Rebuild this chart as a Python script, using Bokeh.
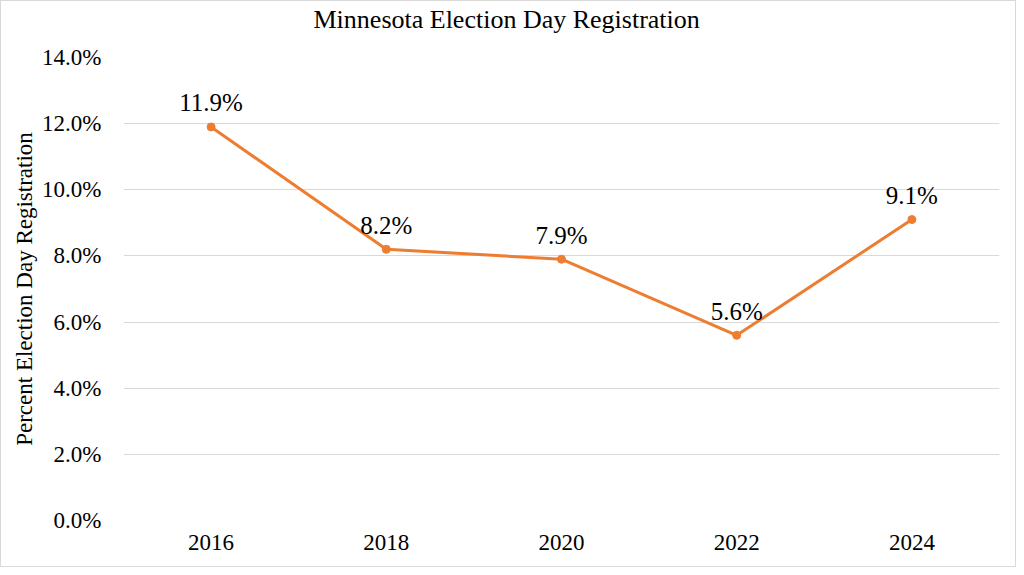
from bokeh.plotting import figure
from bokeh.models import ColumnDataSource, FixedTicker, Range1d, Title
from bokeh.core.properties import value
from bokeh.embed import file_html
from bokeh.resources import INLINE

years = ["2016", "2018", "2020", "2022", "2024"]
pct = [11.9, 8.2, 7.9, 5.6, 9.1]
y_ticks = [0, 2, 4, 6, 8, 10, 12, 14]
y_tick_labels = ["0.0%", "2.0%", "4.0%", "6.0%", "8.0%", "10.0%", "12.0%", "14.0%"]
title_text = "Minnesota Election Day Registration"
y_title = "Percent Election Day Registration"

FONT = "Liberation Serif"
ORANGE = "#ED7D31"
GRID = "#D9D9D9"

xs = list(range(len(years)))
src = ColumnDataSource(dict(x=xs, y=pct, lab=[f"{v:.1f}%" for v in pct]))

p = figure(width=1016, height=567, output_backend="svg", toolbar_location=None,
           x_range=Range1d(-0.5, len(years) - 0.5), y_range=Range1d(0, 14), title=None)
p.min_border_left = 122
p.min_border_right = 18
p.min_border_top = 56
p.min_border_bottom = 48
p.outline_line_color = None
p.background_fill_color = "white"
p.border_fill_color = "white"
p.styles = {"border": "1px solid #D9D9D9"}

p.line("x", "y", source=src, line_color=ORANGE, line_width=3)
p.scatter("x", "y", source=src, size=8, fill_color=ORANGE, line_color=ORANGE)
p.text("x", "y", text="lab", source=src, text_align="center", text_baseline="alphabetic",
       y_offset=-24, text_font=value(FONT), text_font_size="25px", text_color="black")

# axes
p.xaxis.ticker = FixedTicker(ticks=xs)
p.xaxis.major_label_overrides = {i: y for i, y in enumerate(years)}
p.yaxis.ticker = FixedTicker(ticks=y_ticks)
p.yaxis.major_label_overrides = {t: l for t, l in zip(y_ticks, y_tick_labels)}
for ax in (p.xaxis, p.yaxis):
    ax.axis_line_color = None
    ax.major_tick_line_color = None
    ax.minor_tick_line_color = None
    ax.major_label_text_font = FONT
    ax.major_label_text_font_size = "23px"
    ax.major_label_text_color = "black"
p.xaxis.major_label_standoff = 8
p.yaxis.major_label_standoff = 16
p.yaxis.axis_label = y_title
p.yaxis.axis_label_text_font = FONT
p.yaxis.axis_label_text_font_size = "23px"
p.yaxis.axis_label_text_font_style = "normal"
p.yaxis.axis_label_text_color = "black"
p.yaxis.axis_label_standoff = 2

p.xgrid.grid_line_color = None
p.ygrid.grid_line_color = GRID
p.ygrid.grid_line_width = 1

spacer = Title(text=" ", text_font=FONT, text_font_size="20px", standoff=0,
               text_color="white")
t = Title(text=title_text, align="left", offset=190, text_font=FONT,
          text_font_size="26px", text_font_style="normal", text_color="black",
          standoff=0)
p.add_layout(spacer, "above")
p.add_layout(t, "above")

open("out.html", "w").write(file_html(p, INLINE))
